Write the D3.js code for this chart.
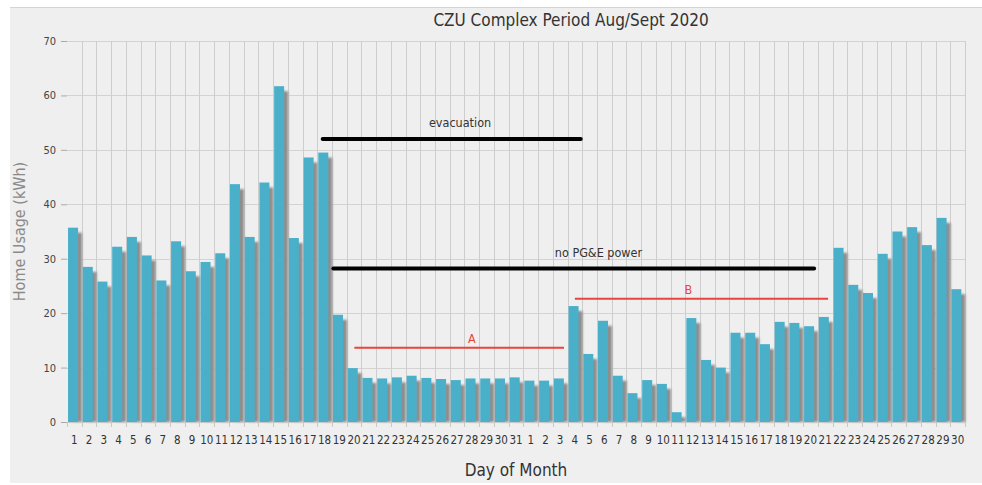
<!DOCTYPE html>
<html>
<head>
<meta charset="utf-8">
<script src="https://cdn.jsdelivr.net/npm/d3@7"></script>
<style>
  html, body { margin: 0; padding: 0; background: #fff; }
  svg { display: block; }
  text { font-family: "DejaVu Sans Condensed", "DejaVu Sans", sans-serif; }
</style>
</head>
<body>
<svg id="chart" width="982" height="485"></svg>
<script>
(function () {
  'use strict';

  /* Données : consommation journalière (kWh), 1 août → 30 sept 2020 */
  var augDays  = d3.range(1, 32);
  var septDays = d3.range(1, 31);
  var dayLabels = augDays.concat(septDays).map(String);

  var augUsage = [35.7, 28.5, 25.8, 32.2, 34.0, 30.6, 26.0, 33.2, 27.7, 29.4,
                  31.0, 43.7, 34.0, 44.0, 61.7, 33.8, 48.6, 49.5, 19.7, 9.9,
                  8.1, 8.0, 8.2, 8.5, 8.1, 7.9, 7.7, 8.0, 8.0, 8.0, 8.2];
  var septUsage = [7.6, 7.6, 8.0, 21.3, 12.5, 18.6, 8.5, 5.3, 7.7, 7.0,
                   1.8, 19.1, 11.4, 10.0, 16.4, 16.4, 14.3, 18.4, 18.2, 17.6,
                   19.3, 32.0, 25.2, 23.7, 30.9, 35.0, 35.8, 32.5, 37.5, 24.4];
  var usage = augUsage.concat(septUsage);

  var yTicks = [0, 10, 20, 30, 40, 50, 60, 70];

  /* Périodes annotées : début / fin en position de jour (index décimal), niveau en kWh */
  var spanNames  = ['evacuation', 'no PG&E power', 'A', 'B'];
  var spanStart  = [17.37, 18.09, 19.52, 34.5];
  var spanEnd    = [34.9, 50.75, 33.76, 51.7];
  var spanLevel  = [52.0, 28.2, 13.65, 22.65];
  var spanLabelX = [26.7, 36.1, 27.5, 42.2];

  /* ──────────────────────────────────────────────────────────────
   * MISE EN PAGE
   * ────────────────────────────────────────────────────────────── */
  var W = 982, H = 485;
  var margin = { top: 41, right: 17, bottom: 63, left: 67 };
  var iw = W - margin.left - margin.right;
  var ih = H - margin.top - margin.bottom;

  var svg = d3.select('#chart');

  svg.append('rect')
    .attr('x', 10).attr('y', 7)
    .attr('width', W - 10).attr('height', H - 9)
    .attr('fill', '#efefef');
  svg.append('line')
    .attr('x1', 10).attr('x2', W).attr('y1', 7.5).attr('y2', 7.5)
    .attr('stroke', '#d4d4d4');

  var defs = svg.append('defs');
  defs.append('filter').attr('id', 'blur')
    .attr('x', '-50%').attr('y', '-10%').attr('width', '200%').attr('height', '120%')
    .append('feGaussianBlur').attr('stdDeviation', 1.2);

  var g = svg.append('g').attr('transform', 'translate(' + margin.left + ',' + margin.top + ')');

  var idx = d3.range(usage.length);
  var x = d3.scaleBand().domain(idx).range([0, iw]).padding(0);
  var bw = x.bandwidth();
  var xPos = d3.scaleLinear().domain([0, usage.length]).range([0, iw]);
  var y = d3.scaleLinear().domain([0, 70]).range([ih, 0]);

  /* grille horizontale */
  g.append('g')
    .selectAll('line').data(yTicks).enter().append('line')
    .attr('x1', 0).attr('x2', iw)
    .attr('y1', function (d) { return Math.round(y(d)) + 0.5; })
    .attr('y2', function (d) { return Math.round(y(d)) + 0.5; })
    .attr('stroke', '#d3d3d3');

  /* grille verticale (bords des catégories) */
  g.append('g')
    .selectAll('line').data(d3.range(1, usage.length + 1)).enter().append('line')
    .attr('x1', function (d) { return Math.round(xPos(d)) + 0.5; })
    .attr('x2', function (d) { return Math.round(xPos(d)) + 0.5; })
    .attr('y1', 0).attr('y2', ih)
    .attr('stroke', '#cdcdcd');

  /* ombres des barres */
  g.append('g').attr('filter', 'url(#blur)')
    .selectAll('rect').data(usage).enter().append('rect')
    .attr('x', function (d, i) { return x(i) + bw * 0.07 + 4; })
    .attr('y', function (d) { return y(d) + 5; })
    .attr('width', bw * 0.68)
    .attr('height', function (d) { return Math.max(0, ih - y(d) - 5); })
    .attr('fill', '#8e8e8e');

  /* barres */
  g.append('g')
    .selectAll('rect').data(usage).enter().append('rect')
    .attr('x', function (d, i) { return x(i) + bw * 0.07; })
    .attr('y', function (d) { return y(d); })
    .attr('width', bw * 0.68)
    .attr('height', function (d) { return ih - y(d); })
    .attr('fill', '#4aafc8');

  /* axe Y */
  var yAxis = g.append('g')
    .call(d3.axisLeft(y).tickValues(yTicks).tickSize(6).tickPadding(5));
  yAxis.select('.domain').remove();
  yAxis.selectAll('.tick line').attr('stroke', '#aaa');
  yAxis.selectAll('.tick text')
    .attr('fill', '#444').style('font-size', '11px');

  /* axe X */
  var xAxis = g.append('g').attr('transform', 'translate(0,' + ih + ')');
  xAxis.append('line')
    .attr('x1', 0).attr('x2', iw).attr('y1', 0.5).attr('y2', 0.5)
    .attr('stroke', '#c8c8c8');
  xAxis.selectAll('line.tk').data(d3.range(0, usage.length + 1)).enter().append('line')
    .attr('class', 'tk')
    .attr('x1', function (d) { return Math.round(xPos(d)) + 0.5; })
    .attr('x2', function (d) { return Math.round(xPos(d)) + 0.5; })
    .attr('y1', 0).attr('y2', 5)
    .attr('stroke', '#c8c8c8');
  xAxis.selectAll('text').data(dayLabels).enter().append('text')
    .attr('x', function (d, i) { return x(i) + bw / 2; })
    .attr('y', 22)
    .attr('text-anchor', 'middle')
    .attr('fill', '#333')
    .style('font-size', '11.5px')
    .text(function (d) { return d; });

  /* annotations */
  var spans = g.append('g');
  spanNames.forEach(function (name, i) {
    var red = (name === 'A' || name === 'B');
    spans.append('line')
      .attr('x1', xPos(spanStart[i])).attr('x2', xPos(spanEnd[i]))
      .attr('y1', y(spanLevel[i])).attr('y2', y(spanLevel[i]))
      .attr('stroke', red ? '#e8453c' : '#000')
      .attr('stroke-width', red ? 2 : 4)
      .attr('stroke-linecap', red ? 'butt' : 'round');
    spans.append('text')
      .attr('x', xPos(spanLabelX[i]))
      .attr('y', y(spanLevel[i]) - (red ? 5 : 12))
      .attr('text-anchor', 'middle')
      .attr('fill', red ? '#e8453c' : '#333')
      .style('font-size', '12.5px')
      .text(name);
  });

  /* titres */
  svg.append('text')
    .attr('x', 571).attr('y', 26)
    .attr('text-anchor', 'middle')
    .attr('fill', '#333')
    .style('font-size', '17px')
    .text('CZU Complex Period Aug/Sept 2020');

  svg.append('text')
    .attr('x', 516).attr('y', 476)
    .attr('text-anchor', 'middle')
    .attr('fill', '#333')
    .style('font-size', '17px')
    .text('Day of Month');

  svg.append('text')
    .attr('transform', 'translate(25,' + (margin.top + ih / 2) + ') rotate(-90)')
    .attr('text-anchor', 'middle')
    .attr('fill', '#8a8a8a')
    .style('font-size', '16px')
    .text('Home Usage (kWh)');
})();
</script>
</body>
</html>
